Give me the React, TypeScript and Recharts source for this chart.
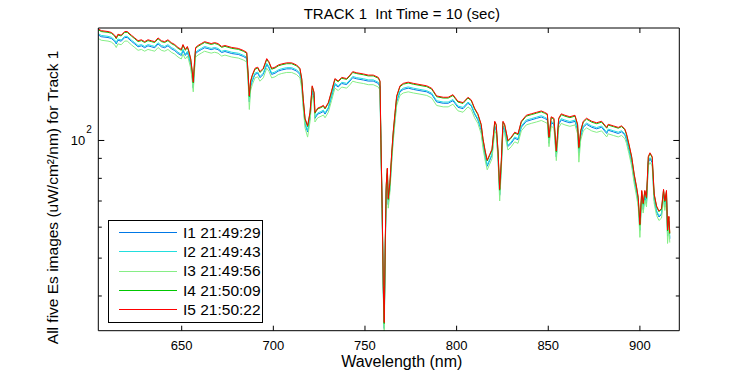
import React from 'react';
import { LineChart, Line, XAxis, YAxis } from 'recharts';

// wavelength samples (nm)
const wavelength = [
  604.5, 606.1, 609.8, 611.6, 613.4, 614.3, 615.2, 617.0, 618.9, 620.3,
  622.5, 624.4, 626.2, 628.0, 629.8, 631.6, 633.4, 635.3, 637.1, 638.9,
  640.7, 642.5, 644.3, 646.2, 648.0, 649.8, 650.7, 652.0, 653.1, 653.8,
  654.9, 655.8, 656.3, 657.1, 657.6, 658.9, 660.7, 662.5, 664.3, 666.1,
  668.0, 669.8, 671.8, 673.6, 677.3, 680.9, 683.6, 685.5, 686.3, 686.9,
  687.6, 688.5, 690.0, 691.5, 692.7, 694.5, 696.4, 697.6, 699.1, 700.9,
  702.7, 704.6, 707.3, 710.0, 712.7, 714.5, 715.5, 716.3, 717.3, 718.7,
  720.0, 721.2, 722.2, 722.7, 724.2, 726.0, 727.3, 728.2, 730.0, 731.8,
  733.6, 735.4, 737.3, 740.0, 741.8, 743.3, 745.5, 749.1, 751.8, 754.5,
  757.3, 758.2, 758.7, 759.4, 760.0, 760.5, 761.1, 761.6, 762.2, 762.7,
  763.6, 764.6, 765.4, 766.4, 767.3, 769.1, 770.9, 773.6, 776.4, 780.0,
  783.7, 786.4, 789.1, 792.7, 795.4, 798.0, 800.7, 803.5, 806.2, 808.0,
  809.8, 811.6, 813.4, 814.4, 815.6, 816.7, 818.0, 819.3, 820.8, 821.6,
  822.6, 823.5, 824.4, 825.3, 826.2, 828.0, 829.8, 831.7, 833.5, 835.3,
  838.0, 840.7, 843.5, 846.2, 848.0, 849.5, 850.4, 851.6, 853.1, 854.4,
  855.7, 857.1, 859.1, 861.8, 864.6, 866.0, 866.7, 867.7, 869.1, 870.9,
  873.7, 876.4, 879.1, 881.9, 882.7, 885.5, 888.2, 890.0, 891.8, 892.7,
  894.0, 895.5, 896.9, 898.2, 899.1, 900.0, 901.0, 901.8, 902.7, 903.6,
  904.6, 905.5, 906.7, 907.8, 909.1, 910.4, 911.8, 912.9, 913.6, 914.5,
  915.1, 915.8, 916.3,
];

const i1 = [
  186.2, 184.3, 183.4, 182.4, 179.5, 176.6, 180.5, 179.5, 183.4, 183.4,
  179.5, 176.6, 173.7, 174.7, 172.7, 174.7, 173.7, 172.7, 176.6, 173.7,
  172.7, 174.7, 171.8, 169.8, 166.9, 165.0, 169.8, 165.0, 167.9, 164.1,
  156.3, 144.8, 136.1, 156.3, 166.9, 168.9, 170.8, 172.7, 171.8, 170.8,
  171.8, 170.8, 167.9, 168.9, 166.9, 166.0, 164.1, 162.1, 141.9, 125.5,
  137.0, 141.9, 147.6, 148.6, 144.8, 147.6, 156.3, 153.4, 147.6, 148.6,
  150.5, 151.5, 152.5, 152.5, 150.5, 147.6, 139.0, 123.5, 110.0, 105.2,
  113.9, 133.2, 128.3, 113.9, 116.8, 117.7, 118.7, 116.8, 120.6, 129.3,
  139.0, 137.0, 139.9, 139.0, 141.9, 144.8, 143.8, 142.8, 141.9, 141.9,
  139.9, 137.0, 97.5, 64.7, 41.0, 33.0, 54.0, 74.3, 82.0, 68.5,
  75.3, 89.7, 101.3, 113.9, 125.5, 133.2, 135.1, 136.1, 135.1, 134.1,
  133.2, 131.2, 125.5, 124.5, 124.5, 126.4, 121.6, 120.6, 124.5, 122.6,
  116.8, 112.9, 106.2, 97.5, 90.7, 85.9, 88.8, 91.7, 108.1, 106.2,
  90.7, 72.4, 85.9, 108.1, 106.2, 96.5, 98.4, 101.3, 100.4, 108.1,
  111.9, 112.9, 113.9, 114.8, 113.9, 112.9, 98.4, 111.0, 110.0, 90.7,
  110.0, 112.9, 111.9, 111.0, 111.9, 106.2, 92.6, 102.3, 108.1, 110.0,
  108.1, 107.1, 108.1, 104.2, 106.2, 105.2, 104.2, 105.2, 103.3, 100.4,
  94.6, 87.8, 79.1, 73.3, 69.0, 58.9, 71.9, 66.6, 71.9, 69.0,
  87.8, 89.7, 87.8, 70.4, 65.6, 63.7, 64.7, 72.4, 67.6, 71.9,
  56.9, 61.8, 56.0,
];

const i2 = [
  187.6, 185.7, 184.7, 183.7, 180.8, 177.9, 181.8, 180.8, 184.7, 184.7,
  180.8, 177.9, 175.0, 175.9, 174.0, 175.9, 175.0, 174.0, 177.9, 175.0,
  174.0, 175.9, 173.0, 171.1, 168.2, 166.2, 171.1, 166.2, 169.1, 165.2,
  157.5, 145.8, 137.1, 157.5, 168.2, 170.1, 172.0, 174.0, 173.0, 172.0,
  173.0, 172.0, 169.1, 170.1, 168.2, 167.2, 165.2, 163.3, 142.9, 126.4,
  138.0, 142.9, 148.7, 149.7, 145.8, 148.7, 157.5, 154.5, 148.7, 149.7,
  151.6, 152.6, 153.6, 153.6, 151.6, 148.7, 140.0, 124.4, 110.8, 105.9,
  114.7, 134.1, 129.3, 114.7, 117.6, 118.6, 119.6, 117.6, 121.5, 130.2,
  140.0, 138.0, 140.9, 140.0, 142.9, 145.8, 144.8, 143.9, 142.9, 142.9,
  140.9, 138.0, 98.2, 65.1, 41.3, 33.2, 54.4, 74.8, 82.6, 69.0,
  75.8, 90.4, 102.1, 114.7, 126.4, 134.1, 136.1, 137.1, 136.1, 135.1,
  134.1, 132.2, 126.4, 125.4, 125.4, 127.3, 122.5, 121.5, 125.4, 123.4,
  117.6, 113.7, 106.9, 98.2, 91.4, 86.5, 89.4, 92.3, 108.9, 106.9,
  91.4, 72.9, 86.5, 108.9, 106.9, 97.2, 99.1, 102.1, 101.1, 108.9,
  112.8, 113.7, 114.7, 115.7, 114.7, 113.7, 99.1, 111.8, 110.8, 91.4,
  110.8, 113.7, 112.8, 111.8, 112.8, 106.9, 93.3, 103.0, 108.9, 110.8,
  108.9, 107.9, 108.9, 105.0, 106.9, 105.9, 105.0, 105.9, 104.0, 101.1,
  95.3, 88.5, 79.7, 73.9, 69.5, 59.3, 72.4, 67.1, 72.4, 69.5,
  88.5, 90.4, 88.5, 71.0, 66.1, 64.2, 65.1, 72.9, 68.0, 72.4,
  57.3, 62.2, 56.4,
];

const i3 = [
  182.4, 180.5, 179.6, 178.6, 175.8, 172.9, 176.7, 175.8, 179.6, 179.6,
  175.8, 172.9, 170.1, 171.0, 169.2, 171.0, 170.1, 169.2, 172.9, 170.1,
  169.2, 171.0, 168.2, 166.3, 163.5, 161.6, 166.3, 161.6, 164.4, 160.7,
  153.1, 141.8, 133.2, 153.1, 163.5, 165.4, 167.3, 169.2, 168.2, 167.3,
  168.2, 167.3, 164.4, 165.4, 163.5, 162.5, 160.7, 158.8, 138.9, 120.0,
  134.2, 138.9, 144.6, 145.5, 141.8, 144.6, 153.1, 150.3, 144.6, 145.5,
  147.4, 148.4, 149.3, 149.3, 147.4, 144.6, 136.1, 121.0, 107.7, 102.0,
  111.5, 130.4, 125.7, 111.5, 114.3, 115.3, 116.2, 114.3, 118.1, 126.6,
  136.1, 134.2, 137.0, 136.1, 138.9, 141.8, 140.8, 139.9, 138.9, 138.9,
  137.0, 134.2, 95.4, 63.3, 40.2, 31.5, 52.9, 72.8, 80.3, 67.1,
  73.7, 87.9, 99.2, 111.5, 122.9, 130.4, 132.3, 133.2, 132.3, 131.4,
  130.4, 128.5, 122.9, 121.9, 121.9, 123.8, 119.1, 118.1, 121.9, 120.0,
  114.3, 110.6, 104.0, 95.4, 88.8, 84.1, 86.9, 89.8, 105.8, 104.0,
  88.8, 70.0, 84.1, 105.8, 104.0, 94.5, 96.4, 99.2, 98.3, 105.8,
  109.6, 110.6, 111.5, 112.5, 111.5, 110.6, 96.4, 108.7, 107.7, 88.8,
  107.7, 110.6, 109.6, 108.7, 109.6, 104.0, 88.0, 100.2, 105.8, 107.7,
  105.8, 104.9, 105.8, 102.1, 104.0, 103.0, 102.1, 103.0, 101.1, 98.3,
  92.6, 86.0, 77.5, 71.8, 67.6, 56.5, 70.4, 65.2, 70.4, 67.6,
  86.0, 87.9, 86.0, 69.0, 64.3, 62.4, 63.3, 70.9, 66.2, 70.4,
  54.5, 60.5, 54.8,
];

const i4 = [
  192.0, 190.0, 189.1, 188.1, 185.1, 182.1, 186.1, 185.1, 189.1, 189.1,
  185.1, 182.1, 179.1, 180.1, 178.1, 180.1, 179.1, 178.1, 182.1, 179.1,
  178.1, 180.1, 177.1, 175.1, 172.1, 170.1, 175.1, 170.1, 173.1, 169.2,
  161.2, 149.3, 140.3, 161.2, 172.1, 174.1, 176.1, 178.1, 177.1, 176.1,
  177.1, 176.1, 173.1, 174.1, 172.1, 171.1, 169.2, 167.2, 146.3, 129.4,
  141.3, 146.3, 152.2, 153.2, 149.3, 152.2, 161.2, 158.2, 152.2, 153.2,
  155.2, 156.2, 157.2, 157.2, 155.2, 152.2, 143.3, 127.4, 113.4, 108.5,
  117.4, 137.3, 132.3, 117.4, 120.4, 121.4, 122.4, 120.4, 124.4, 133.3,
  143.3, 141.3, 144.3, 143.3, 146.3, 149.3, 148.3, 147.3, 146.3, 146.3,
  144.3, 141.3, 100.5, 66.7, 42.3, 34.0, 55.7, 76.6, 84.6, 70.6,
  77.6, 92.5, 104.5, 117.4, 129.4, 137.3, 139.3, 140.3, 139.3, 138.3,
  137.3, 135.3, 129.4, 128.4, 128.4, 130.3, 125.4, 124.4, 128.4, 126.4,
  120.4, 116.4, 109.5, 100.5, 93.5, 88.6, 91.5, 94.5, 111.4, 109.5,
  93.5, 74.6, 88.6, 111.4, 109.5, 99.5, 101.5, 104.5, 103.5, 111.4,
  115.4, 116.4, 117.4, 118.4, 117.4, 116.4, 101.5, 114.4, 113.4, 93.5,
  113.4, 116.4, 115.4, 114.4, 115.4, 109.5, 95.5, 105.5, 111.4, 113.4,
  111.4, 110.4, 111.4, 107.5, 109.5, 108.5, 107.5, 108.5, 106.5, 103.5,
  97.5, 90.5, 81.6, 75.6, 71.1, 60.7, 74.1, 68.7, 74.1, 71.1,
  90.5, 92.5, 90.5, 72.6, 67.7, 65.7, 66.7, 74.6, 69.7, 74.1,
  58.7, 63.7, 57.7,
];

const i5 = [
  193, 191, 190, 189, 186, 183, 187, 186, 190, 190,
  186, 183, 180, 181, 179, 181, 180, 179, 183, 180,
  179, 181, 178, 176, 173, 171, 176, 171, 174, 170,
  162, 150, 141, 162, 173, 175, 177, 179, 178, 177,
  178, 177, 174, 175, 173, 172, 170, 168, 147, 130,
  142, 147, 153, 154, 150, 153, 162, 159, 153, 154,
  156, 157, 158, 158, 156, 153, 144, 128, 114, 109,
  118, 138, 133, 118, 121, 122, 123, 121, 125, 134,
  144, 142, 145, 144, 147, 150, 149, 148, 147, 147,
  145, 142, 101, 67, 42.5, 34.2, 56, 77, 85, 71,
  78, 93, 105, 118, 130, 138, 140, 141, 140, 139,
  138, 136, 130, 129, 129, 131, 126, 125, 129, 127,
  121, 117, 110, 101, 94, 89, 92, 95, 112, 110,
  94, 75, 89, 112, 110, 100, 102, 105, 104, 112,
  116, 117, 118, 119, 118, 117, 102, 115, 114, 94,
  114, 117, 116, 115, 116, 110, 96, 106, 112, 114,
  112, 111, 112, 108, 110, 109, 108, 109, 107, 104,
  98, 91, 82, 76, 71.5, 61, 74.5, 69, 74.5, 71.5,
  91, 93, 91, 73, 68, 66, 67, 75, 70, 74.5,
  59, 64, 58,
];

const seriesNames = ['I1 21:49:29', 'I2 21:49:43', 'I3 21:49:56', 'I4 21:50:09', 'I5 21:50:22'];
const seriesColors = ['#0078e6', '#22dede', '#86ee86', '#00c800', '#ff0000'];
const seriesValues = [i1, i2, i3, i4, i5];

const xTicks = [650, 700, 750, 800, 850, 900];
const yTicks = [40, 50, 60, 70, 80, 90, 100];
const xDomain = [604.5, 921.5];
const yDomain = [32.6, 194];

const FONT = '"Liberation Sans", Arial, Helvetica, sans-serif';

const series = seriesNames.map((name, k) => ({
  key: `s${k + 1}`,
  name,
  color: seriesColors[k],
  values: seriesValues[k],
}));

const data = wavelength.map((w, idx) => {
  const row: Record<string, number> = { w };
  series.forEach((s) => {
    row[s.key] = s.values[idx];
  });
  return row;
});

function BottomTick({ x, y, payload }: any) {
  return (
    <g>
      <line x1={x} y1={y} x2={x} y2={y - 5} stroke="#000" />
      <text x={x} y={y + 19} textAnchor="middle" fontSize={13} fontFamily={FONT} fill="#000">
        {payload.value}
      </text>
    </g>
  );
}

function TopTick({ x, y }: any) {
  return <line x1={x} y1={y} x2={x} y2={y + 5} stroke="#000" />;
}

function LeftTick({ x, y, payload }: any) {
  const major = payload.value === 100;
  return (
    <g>
      <line x1={x} y1={y} x2={x + (major ? 6 : 3.5)} y2={y} stroke="#000" />
      {major && (
        <g fontFamily={FONT} fill="#000">
          <text x={x - 13} y={y + 5} textAnchor="end" fontSize={13}>10</text>
          <text x={x - 12} y={y - 7} fontSize={10}>2</text>
        </g>
      )}
    </g>
  );
}

function RightTick({ x, y, payload }: any) {
  const major = payload.value === 100;
  return <line x1={x} y1={y} x2={x - (major ? 6 : 3.5)} y2={y} stroke="#000" />;
}

export default function App() {
  return (
    <div style={{ position: 'absolute', left: 0, top: 0, width: 750, height: 375, background: '#fff' }}>
      <LineChart
        width={750}
        height={375}
        data={data}
        margin={{ top: 18, right: 60.7, bottom: 8.3, left: 38.3 }}
      >
        <XAxis
          xAxisId="bottom"
          dataKey="w"
          type="number"
          domain={xDomain}
          ticks={xTicks}
          interval={0}
          allowDataOverflow
          height={36}
          tickSize={0}
          tickMargin={0}
          tickLine={false}
          axisLine={{ stroke: '#000' }}
          tick={(p: any) => <BottomTick {...p} />}
          label={{
            content: ({ viewBox }: any) => (
              <text
                x={viewBox.x + viewBox.width / 2 + 13}
                y={viewBox.y + 36}
                textAnchor="middle"
                fontSize={16}
                fontFamily={FONT}
                fill="#000"
              >
                Wavelength (nm)
              </text>
            ),
          }}
        />
        <XAxis
          xAxisId="top"
          orientation="top"
          dataKey="w"
          type="number"
          domain={xDomain}
          ticks={xTicks}
          interval={0}
          allowDataOverflow
          height={10}
          tickSize={0}
          tickMargin={0}
          tickLine={false}
          axisLine={{ stroke: '#000' }}
          tick={(p: any) => <TopTick {...p} />}
          label={{
            content: ({ viewBox }: any) => (
              <text
                x={viewBox.x + viewBox.width / 2 + 13}
                y={19}
                textAnchor="middle"
                fontSize={15}
                fontFamily={FONT}
                fill="#000"
                style={{ whiteSpace: 'pre' }}
              >
                {'TRACK 1  Int Time = 10 (sec)'}
              </text>
            ),
          }}
        />
        <YAxis
          yAxisId="left"
          type="number"
          scale="log"
          domain={yDomain}
          ticks={yTicks}
          interval={0}
          allowDataOverflow
          width={60}
          tickSize={0}
          tickMargin={0}
          tickLine={false}
          axisLine={{ stroke: '#000' }}
          tick={(p: any) => <LeftTick {...p} />}
          label={{
            content: ({ viewBox }: any) => {
              const cx = viewBox.x + 20;
              const cy = viewBox.y + viewBox.height / 2 + 18;
              return (
                <text
                  x={cx}
                  y={cy}
                  transform={`rotate(-90 ${cx} ${cy})`}
                  textAnchor="middle"
                  fontSize={15.5}
                  fontFamily={FONT}
                  fill="#000"
                >
                  All five Es images (uW/cm²/nm) for Track 1
                </text>
              );
            },
          }}
        />
        <YAxis
          yAxisId="right"
          orientation="right"
          type="number"
          scale="log"
          domain={yDomain}
          ticks={yTicks}
          interval={0}
          allowDataOverflow
          width={10}
          tickSize={0}
          tickMargin={0}
          tickLine={false}
          axisLine={{ stroke: '#000' }}
          tick={(p: any) => <RightTick {...p} />}
        />
        {series.map((s) => (
          <Line
            key={s.key}
            xAxisId="bottom"
            yAxisId="left"
            dataKey={s.key}
            name={s.name}
            type="linear"
            stroke={s.color}
            strokeWidth={1}
            dot={false}
            activeDot={false}
            isAnimationActive={false}
          />
        ))}
      </LineChart>
      <div
        style={{
          position: 'absolute',
          left: 108,
          top: 220,
          width: 155,
          height: 103,
          boxSizing: 'border-box',
          border: '1px solid #000',
          background: '#fff',
          fontFamily: FONT,
          fontSize: 15.5,
        }}
      >
        {series.map((s, k) => (
          <div
            key={s.key}
            style={{
              position: 'absolute',
              left: 0,
              top: 2 + k * 19.3,
              height: 19.3,
              display: 'flex',
              alignItems: 'center',
              whiteSpace: 'nowrap',
            }}
          >
            <span style={{ display: 'inline-block', marginLeft: 10, width: 58, height: 1, background: s.color }} />
            <span style={{ marginLeft: 6, lineHeight: 1 }}>{s.name}</span>
          </div>
        ))}
      </div>
    </div>
  );
}
